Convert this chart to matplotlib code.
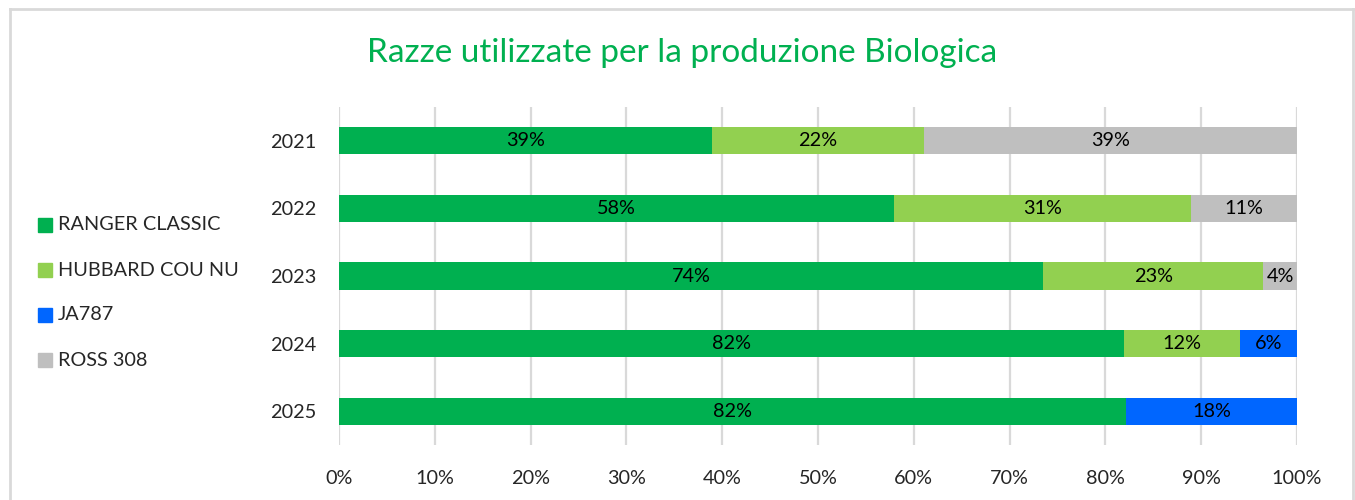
import matplotlib
matplotlib.use("Agg")
import matplotlib.pyplot as plt
from matplotlib.patches import Rectangle
from matplotlib.lines import Line2D

years = ["2021", "2022", "2023", "2024", "2025"]
series_names = ["RANGER CLASSIC", "HUBBARD COU NU", "JA787", "ROSS 308"]
ranger = [38.9, 57.9, 73.5, 81.9, 82.2]
hubbard = [22.2, 31.0, 23.0, 12.1, 0.0]
ja787 = [0.0, 0.0, 0.0, 6.0, 17.8]
ross = [38.9, 11.1, 3.5, 0.0, 0.0]
colors = ["#00B050", "#92D050", "#0066FF", "#BFBFBF"]
xticks = [0, 10, 20, 30, 40, 50, 60, 70, 80, 90, 100]

plt.rcParams['font.family'] = ['Lato', 'DejaVu Sans']

FS = 14.3
fig = plt.figure(figsize=(13.55, 5.0), dpi=100)
ax = fig.add_axes([339/1355, 1-445/500, (1297-339)/1355, (445-107)/500])

ypos = list(range(len(years)))
left = [0.0]*len(years)
for vals, name, col in zip([ranger, hubbard, ja787, ross], series_names, colors):
    ax.barh(ypos, vals, left=left, height=0.4, color=col, label=name, zorder=3)
    for i, v in enumerate(vals):
        if v > 0:
            ax.text(left[i] + v/2, i, f"{round(v)}%", ha='center', va='center',
                    fontsize=FS, color='black', zorder=4)
    left = [l + v for l, v in zip(left, vals)]

ax.set_xlim(0, 100)
ax.set_ylim(len(years)-0.5, -0.5)
ax.set_yticks(ypos)
ax.set_yticklabels(years, fontsize=FS, color='#262626')
ax.set_xticks(xticks)
ax.set_xticklabels([f"{t}%" for t in xticks], fontsize=FS, color='#262626')
ax.tick_params(axis='both', length=0)
ax.tick_params(axis='y', pad=16)
ax.tick_params(axis='x', pad=18)
ax.grid(axis='x', color='#D9D9D9', linewidth=1.6, zorder=0)
for s in ax.spines.values():
    s.set_visible(False)

fig.text(682/1355, 1-53/500, "Razze utilizzate per la produzione Biologica",
         ha='center', va='center', fontsize=24, color='#00B050')

# legend
leg_y = [225, 270, 315, 360]
for yy, name, col in zip(leg_y, series_names, colors):
    fig.patches.append(Rectangle((38/1355, 1-(yy+7)/500), 14/1355, 14/500,
                                 transform=fig.transFigure, color=col))
    fig.text(58/1355, 1-yy/500, name, ha='left', va='center', fontsize=FS, color='#262626')

# chart border
fig.add_artist(Line2D([10/1355, 10/1355], [0, 1-9/500], transform=fig.transFigure, color='#D9D9D9', lw=2))
fig.add_artist(Line2D([10/1355, 1353/1355], [1-9/500, 1-9/500], transform=fig.transFigure, color='#D9D9D9', lw=2))
fig.add_artist(Line2D([1353/1355, 1353/1355], [0, 1-9/500], transform=fig.transFigure, color='#D9D9D9', lw=2))

fig.savefig("out.png", dpi=100)
